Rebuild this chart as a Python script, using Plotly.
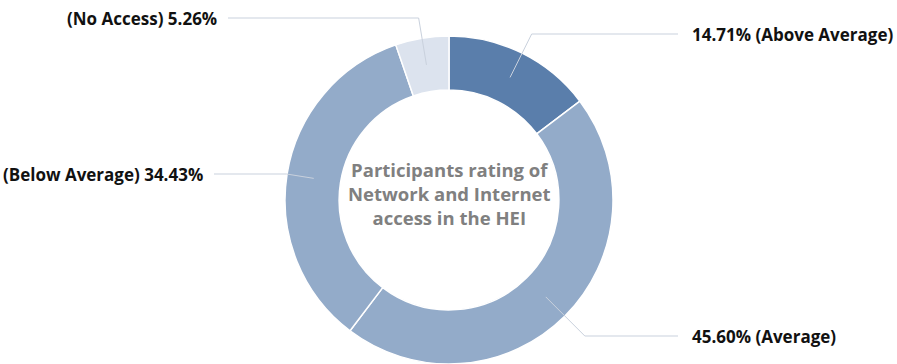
import math
import plotly.graph_objects as go

# Ratings of network and Internet access, clockwise from 12 o'clock
categories = ["Above Average", "Average", "Below Average", "No Access"]
values = [14.71, 45.60, 34.43, 5.26]
colors = ["#5a7eab", "#93abc9", "#93abc9", "#dce3ee"]
# label wording: category before or after the percentage
label_order = ["value_first", "value_first", "cat_first", "cat_first"]

W, H = 897, 364
CX, CY, R_OUT = 449, 200, 164
HOLE = 0.67
R_MID = R_OUT * (1 + HOLE) / 2

# where each callout text sits (pixel y of the text line, end of the leader, side)
callouts = {
    "Above Average": dict(y=34, end_x=678, side="right"),
    "Average": dict(y=336, end_x=678, side="right"),
    "Below Average": dict(y=174, end_x=214, side="left"),
    "No Access": dict(y=18, end_x=228, side="left"),
}


def px(x):
    return x / W


def py(y):
    return 1 - y / H


fig = go.Figure(
    go.Pie(
        labels=categories,
        values=values,
        sort=False,
        direction="clockwise",
        rotation=0,
        hole=HOLE,
        marker=dict(colors=colors, line=dict(color="white", width=1.5)),
        textinfo="none",
        hoverinfo="label+percent",
        showlegend=False,
        domain=dict(x=[px(CX - R_OUT), px(CX + R_OUT)], y=[py(CY + R_OUT), py(CY - R_OUT)]),
    )
)

shapes = []
annotations = []
total = sum(values)
start = 0.0
for cat, val, order in zip(categories, values, label_order):
    mid = (start + val / 2) / total * 2 * math.pi
    start += val
    ux, uy = math.sin(mid), -math.cos(mid)
    ax, ay = CX + R_MID * ux, CY + R_MID * uy
    c = callouts[cat]
    # radial run out to the text line, then horizontal to the label
    t = (c["y"] - CY) / uy if abs(uy) > 1e-6 else R_OUT
    ex, ey = CX + t * ux, c["y"]
    path = f"M {px(ax)} {py(ay)} L {px(ex)} {py(ey)} L {px(c['end_x'])} {py(ey)}"
    shapes.append(dict(type="path", xref="paper", yref="paper", path=path,
                       line=dict(color="#c9d1dd", width=1)))
    text = f"{val:.2f}% ({cat})" if order == "value_first" else f"({cat}) {val:.2f}%"
    if c["side"] == "right":
        annotations.append(dict(x=px(c["end_x"] + 12), y=py(c["y"]), xanchor="left"))
    else:
        annotations.append(dict(x=px(c["end_x"] - 9), y=py(c["y"]), xanchor="right"))
    annotations[-1].update(text=f"<b>{text}</b>", xref="paper", yref="paper",
                           yanchor="middle", showarrow=False,
                           font=dict(family="Open Sans", size=17, color="#111111"))

annotations.append(dict(
    x=px(CX), y=py(193), xref="paper", yref="paper", xanchor="center", yanchor="middle",
    showarrow=False, align="center",
    text="<b>Participants rating of<br>Network and Internet<br>access in the HEI</b>",
    font=dict(family="Open Sans", size=18.5, color="#808080"),
))

fig.update_layout(
    width=W, height=H,
    margin=dict(l=0, r=0, t=0, b=0),
    paper_bgcolor="white", plot_bgcolor="white",
    shapes=shapes, annotations=annotations,
)

fig.write_html("out.html")
